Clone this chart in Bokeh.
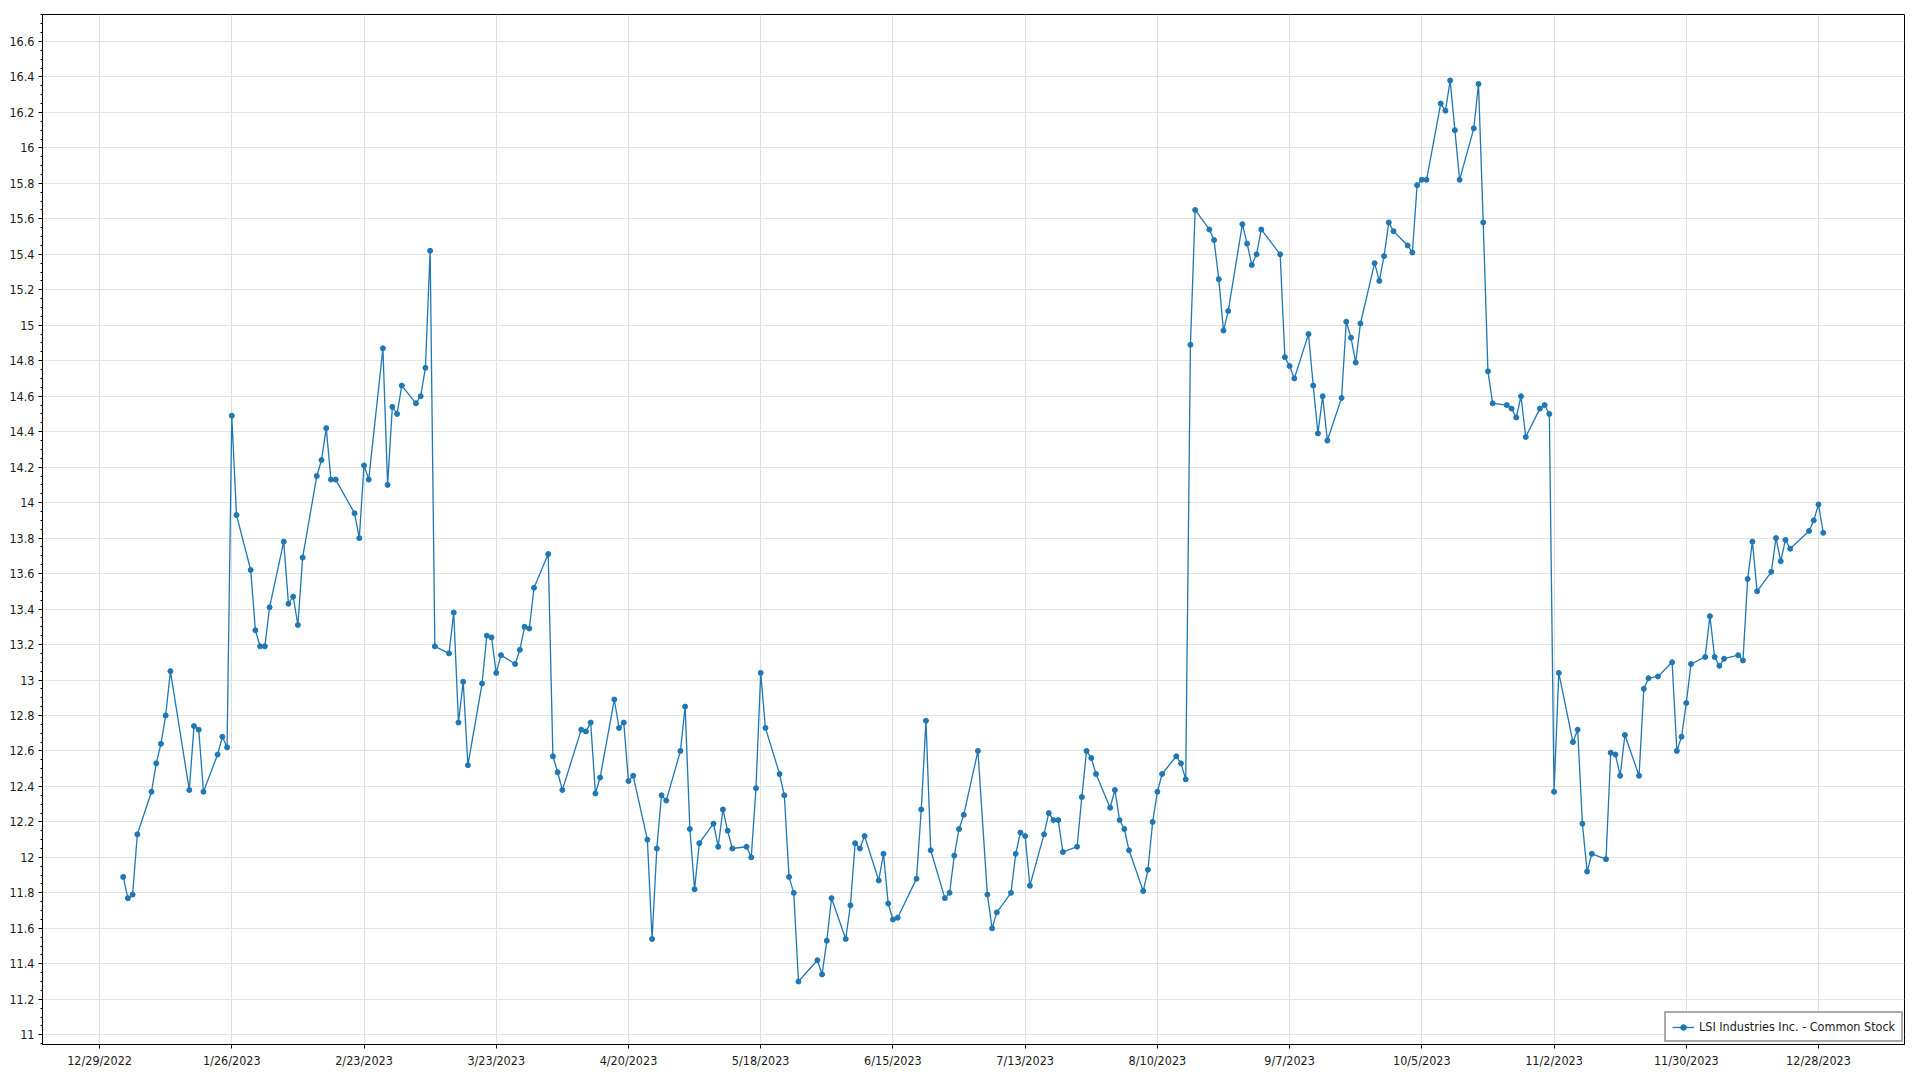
import pandas as pd
from datetime import datetime
from bokeh.plotting import figure
from bokeh.models import FixedTicker, Range1d, Legend, LegendItem, ColumnDataSource
from bokeh.embed import file_html
from bokeh.resources import INLINE

series_name = "LSI Industries Inc. - Common Stock"
holidays_2023 = ["2023-01-02", "2023-01-16", "2023-02-20", "2023-04-07", "2023-05-29",
                 "2023-06-19", "2023-07-04", "2023-09-04", "2023-11-23", "2023-12-25"]

jan = [11.89, 11.77, 11.79, 12.13, 12.37, 12.53, 12.64, 12.80, 13.05, 12.38, 12.74, 12.72, 12.37, 12.58, 12.68, 12.62, 14.49, 13.93, 13.62, 13.28]
feb = [13.19, 13.19, 13.41, 13.78, 13.43, 13.47, 13.31, 13.69, 14.15, 14.24, 14.42, 14.13, 14.13, 13.94, 13.80, 14.21, 14.13, 14.87, 14.10]
mar = [14.54, 14.50, 14.66, 14.56, 14.60, 14.76, 15.42, 13.19, 13.15, 13.38, 12.76, 12.99, 12.52, 12.98, 13.25, 13.24, 13.04, 13.14, 13.09, 13.17, 13.30, 13.29, 13.52]
apr = [13.71, 12.57, 12.48, 12.38, 12.72, 12.71, 12.76, 12.36, 12.45, 12.89, 12.73, 12.76, 12.43, 12.46, 12.10, 11.54, 12.05, 12.35, 12.32]
may = [12.60, 12.85, 12.16, 11.82, 12.08, 12.19, 12.06, 12.27, 12.15, 12.05, 12.06, 12.00, 12.39, 13.04, 12.73, 12.47, 12.35, 11.89, 11.80, 11.30, 11.42, 11.34]
jun = [11.53, 11.77, 11.54, 11.73, 12.08, 12.05, 12.12, 11.87, 12.02, 11.74, 11.65, 11.66, 11.88, 12.27, 12.77, 12.04, 11.77, 11.80, 12.01, 12.16, 12.24]
jul = [12.60, 11.79, 11.60, 11.69, 11.80, 12.02, 12.14, 12.12, 11.84, 12.13, 12.25, 12.21, 12.21, 12.03, 12.06, 12.34, 12.60, 12.56, 12.47, 12.28]
aug = [12.38, 12.21, 12.16, 12.04, 11.81, 11.93, 12.20, 12.37, 12.47, 12.57, 12.53, 12.44, 14.89, 15.65, 15.54, 15.48, 15.26, 14.97, 15.08, 15.57, 15.46, 15.34, 15.40]
sep = [15.54, 15.40, 14.82, 14.77, 14.70, 14.95, 14.66, 14.39, 14.60, 14.35, 14.59, 15.02, 14.93, 14.79, 15.01, 15.35, 15.25, 15.39, 15.58, 15.53]
octo = [15.45, 15.41, 15.79, 15.82, 15.82, 16.25, 16.21, 16.38, 16.10, 15.82, 16.11, 16.36, 15.58, 14.74, 14.56, 14.55, 14.53, 14.48, 14.60, 14.37, 14.53, 14.55]
nov = [14.50, 12.37, 13.04, 12.65, 12.72, 12.19, 11.92, 12.02, 11.99, 12.59, 12.58, 12.46, 12.69, 12.46, 12.95, 13.01, 13.02, 13.10, 12.60, 12.68, 12.87]
dec = [13.09, 13.13, 13.36, 13.13, 13.08, 13.12, 13.14, 13.11, 13.57, 13.78, 13.50, 13.61, 13.80, 13.67, 13.79, 13.74, 13.84, 13.90, 13.99, 13.83]

x_tick_labels = ["12/29/2022", "1/26/2023", "2/23/2023", "3/23/2023", "4/20/2023", "5/18/2023",
                 "6/15/2023", "7/13/2023", "8/10/2023", "9/7/2023", "10/5/2023", "11/2/2023",
                 "11/30/2023", "12/28/2023"]
y_tick_labels = ["11", "11.2", "11.4", "11.6", "11.8", "12", "12.2", "12.4", "12.6", "12.8", "13",
                 "13.2", "13.4", "13.6", "13.8", "14", "14.2", "14.4", "14.6", "14.8", "15",
                 "15.2", "15.4", "15.6", "15.8", "16", "16.2", "16.4", "16.6"]

values = jan + feb + mar + apr + may + jun + jul + aug + sep + octo + nov + dec
dates = pd.bdate_range("2023-01-03", "2023-12-29", freq="C", holidays=holidays_2023)
dates = dates[:len(values)]
src = ColumnDataSource(dict(x=dates, y=values))

FONT = "'DejaVu Sans Condensed', 'Liberation Sans Narrow', 'Open Sans', sans-serif"
BLUE = "#1f77b4"

p = figure(width=1911, height=1073, x_axis_type="datetime", output_backend="svg",
           toolbar_location=None,
           x_range=Range1d(datetime(2022, 12, 16, 22), datetime(2024, 1, 15, 5)),
           y_range=Range1d(10.945, 16.752),
           min_border_left=42, min_border_right=7, min_border_top=14, min_border_bottom=29)

ln = p.line("x", "y", source=src, line_color=BLUE, line_width=1.3)
sc = p.scatter("x", "y", source=src, size=5, fill_color=BLUE, line_color=BLUE)

x_ticks = [int(pd.Timestamp(datetime.strptime(s, "%m/%d/%Y")).timestamp() * 1000) for s in x_tick_labels]
p.xaxis.ticker = FixedTicker(ticks=x_ticks, minor_ticks=[])
p.xaxis.major_label_overrides = {t: s for t, s in zip(x_ticks, x_tick_labels)}

y_ticks = [float(s) for s in y_tick_labels]
y_minor = [round(10.95 + 0.05 * i, 2) for i in range(118)]
p.yaxis.ticker = FixedTicker(ticks=y_ticks, minor_ticks=y_minor)
p.yaxis.major_label_overrides = {t: s for t, s in zip(y_ticks, y_tick_labels)}

for ax in (p.xaxis[0], p.yaxis[0]):
    ax.axis_line_color = "black"
    ax.axis_line_width = 1
    ax.major_tick_line_color = "black"
    ax.minor_tick_line_color = "black"
    ax.major_tick_out = 4
    ax.major_tick_in = 0
    ax.minor_tick_out = 2
    ax.minor_tick_in = 0
    ax.major_label_text_font = FONT
    ax.major_label_text_font_size = "12.5px"
    ax.major_label_text_color = "#1a1a1a"
    ax.major_label_standoff = 4

p.xgrid.grid_line_color = "#dedede"
p.ygrid.grid_line_color = "#e3e3e3"
p.outline_line_color = "black"
p.outline_line_width = 1
p.background_fill_color = "white"
p.border_fill_color = "white"

legend = Legend(items=[LegendItem(label=series_name, renderers=[ln, sc])],
                location=(1622, 2), margin=0, padding=6, spacing=0,
                border_line_color="#555555", border_line_width=2,
                background_fill_color="white", background_fill_alpha=1.0,
                label_text_font=FONT, label_text_font_size="12.5px", label_text_color="#1a1a1a",
                glyph_width=22, glyph_height=14, label_standoff=5, label_height=15)
p.add_layout(legend)

open("out.html", "w").write(file_html(p, INLINE))
